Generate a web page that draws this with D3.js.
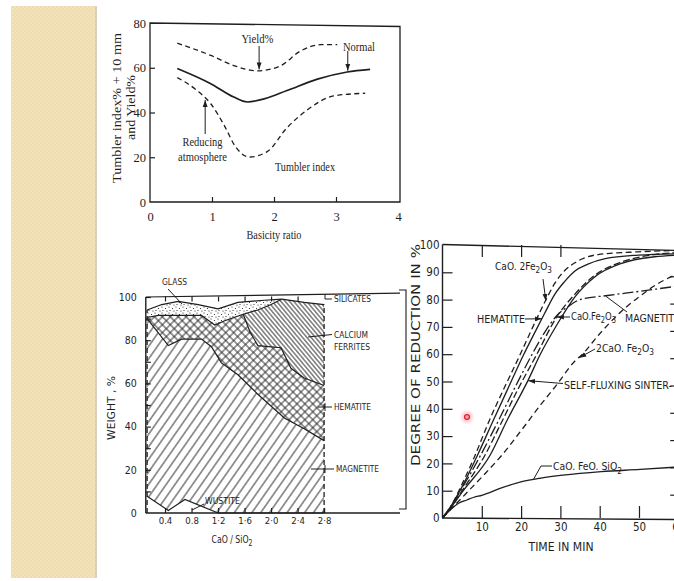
<!DOCTYPE html>
<html>
<head>
<meta charset="utf-8">
<script src="https://cdn.jsdelivr.net/npm/d3@7"></script>
<style>
html, body { margin: 0; padding: 0; background: #fff; }
svg { display: block; }
</style>
</head>
<body>
<svg id="slide" width="674" height="581"></svg>
<script>
// ---- top chart: tumbler index / yield vs basicity ratio
const yieldPts   = [[0.44,71],[0.98,65.5],[1.35,61],[1.73,58.6],[2.1,60.8],[2.43,67.5],[2.75,70.3],[3.02,70.3]];
const normalPts  = [[0.44,59.7],[0.98,52.9],[1.35,46.9],[1.57,44.7],[1.84,46.1],[2.21,49.8],[2.7,54.9],[3.18,58.1],[3.55,59.3]];
const tumblerPts = [[0.44,55.6],[0.76,49.8],[0.98,43.9],[1.19,34.6],[1.38,24.7],[1.6,20.1],[1.89,22.5],[2.21,33.2],[2.53,41],[2.96,47.4],[3.47,48.6]];
const basicityTicks = [0,1,2,3,4];
const tumblerTicks = [0,20,40,60,80];

// ---- bottom left: phases (cumulative weight %) vs CaO/SiO2
const wustiteTop   = [[0.13,7.7],[0.45,1.2],[0.7,6.3],[1.2,0],[2.8,0]];
const magnetiteTop = [[0.13,90],[0.45,77.5],[0.65,80.5],[0.95,80.5],[1.1,77],[1.25,69.5],[1.5,64],[1.8,55],[2.2,44],[2.5,39],[2.8,33.5]];
const hematiteTop  = [[0.13,90.5],[0.3,91.5],[0.95,91.5],[1.15,87],[1.3,89],[1.58,92],[1.68,84],[1.8,77.5],[2.15,76.5],[2.3,67],[2.5,62.5],[2.8,59]];
const glassTop     = [[0.13,94],[0.35,96.5],[0.6,98],[0.9,96.5],[1.2,94.5],[1.5,97.5],[1.9,98.5],[2.16,99]];
const ferriteLeft  = [[1.58,92],[1.8,94],[2.0,96.5],[2.16,99]];
const ferriteTop   = [[2.16,99],[2.5,97.5],[2.8,96.5]];
const ratioTicks = [0.4,0.8,1.2,1.6,2.0,2.4,2.8];
const ratioLabels = ["0.4","0.8","1·2","1·6","2·0","2·4","2·8"];
const weightTicks = [0,10,20,30,40,50,60,70,80,90,100];

// ---- bottom right: degree of reduction vs time
const cao2fe2o3   = [[0,0],[2,4],[5,12.5],[8,22],[12,36],[16,48.5],[19.7,59.7],[23,70],[26,79],[28.6,86],[31,90.5],[33.7,93.5],[39.6,96.5],[49.8,97.5],[60,98]];
const hematite    = [[0,0],[2,4],[5,11.5],[8.9,23],[13,36],[17,48.5],[20.6,59.7],[23.5,68],[26,75],[28.6,82],[31,86.5],[33.7,90.5],[37,93],[41.4,95],[49.8,96.3],[60,96.8]];
const magnetite   = [[0,0],[2,4],[5,11],[9.7,23],[14,35],[18.5,48],[22.7,59.7],[26,68],[29,74],[32,77.5],[35,80],[42,81.5],[50,83],[60,85]];
const caofe2o3    = [[0,0],[2,3.5],[5,10],[10.8,23],[15,35],[19.5,48],[23.9,59.7],[29,73.5],[33.7,82],[38.8,89],[45,93.5],[54,96.5],[60,97.2]];
const selfFluxing = [[0,0],[2,3.5],[5,9.5],[12.1,23],[16.5,36],[21.8,50.5],[24.8,59.7],[29,70.5],[33.7,81],[38.8,88.4],[45.6,93.3],[54,95.7],[60,96.3]];
const ca2fe2o5    = [[0,0],[3,4.5],[7,10.5],[11,16.5],[15.1,23],[20,32],[25,41.5],[29,48.7],[33.7,57.5],[35.4,59.7],[40,67.5],[45,75],[50,81],[55,86],[60,89.5]];
const caofeosio2  = [[0,0],[2,3],[4,5.3],[6.2,6.6],[8,7.6],[10,8.3],[15,11],[20.2,13.3],[25,14.6],[30.6,15.7],[40.4,17],[50.3,17.8],[60,18.7]];
const timeTicks = [10,20,30,40,50,60];
const reductionTicks = [0,10,20,30,40,50,60,70,80,90,100];

const SERIF = "'Liberation Serif','DejaVu Serif',serif";
const COND = "'DejaVu Sans Condensed','Liberation Sans Narrow','DejaVu Sans',sans-serif";
const INK = "#1e1e1e";

const svg = d3.select("#slide");
const defs = svg.append("defs");

// slide strip on the left
const chk = defs.append("pattern").attr("id", "chk")
    .attr("patternUnits", "userSpaceOnUse").attr("width", 4).attr("height", 4);
chk.append("rect").attr("width", 4).attr("height", 4).attr("fill", "#eedbae");
chk.append("rect").attr("width", 2).attr("height", 2).attr("fill", "#f3e3bd");
chk.append("rect").attr("x", 2).attr("y", 2).attr("width", 2).attr("height", 2).attr("fill", "#f3e3bd");
svg.append("rect").attr("x", 11).attr("y", 6).attr("width", 84).attr("height", 572).attr("fill", "url(#chk)");
svg.append("rect").attr("x", 95).attr("y", 6).attr("width", 2).attr("height", 572).attr("fill", "#d8d0bd");

// hatch patterns
function hatch(id, size, angle, cross) {
    const p = defs.append("pattern").attr("id", id)
        .attr("patternUnits", "userSpaceOnUse")
        .attr("width", size).attr("height", size)
        .attr("patternTransform", `rotate(${angle})`);
    p.append("line").attr("x1", size / 2).attr("y1", 0).attr("x2", size / 2).attr("y2", size)
        .attr("stroke", INK).attr("stroke-width", 0.9);
    if (cross)
        p.append("line").attr("x1", 0).attr("y1", size / 2).attr("x2", size).attr("y2", size / 2)
            .attr("stroke", INK).attr("stroke-width", 0.9);
}
hatch("hMag", 7.2, 35, false);
hatch("hHem", 5.6, 45, true);
hatch("hCF", 3.3, -40, false);
const dots = defs.append("pattern").attr("id", "hGlass")
    .attr("patternUnits", "userSpaceOnUse").attr("width", 7).attr("height", 6);
[[1,1],[4.5,2.5],[2,4.5],[6,5]].forEach(d =>
    dots.append("circle").attr("cx", d[0]).attr("cy", d[1]).attr("r", 0.6).attr("fill", INK));

defs.append("marker").attr("id", "arr")
    .attr("viewBox", "0 -5 10 10").attr("refX", 10).attr("refY", 0)
    .attr("markerUnits", "userSpaceOnUse").attr("markerWidth", 7).attr("markerHeight", 7)
    .attr("orient", "auto")
    .append("path").attr("d", "M0,-3.5L10,0L0,3.5Z").attr("fill", INK);

const cursorGrad = defs.append("radialGradient").attr("id", "cursor");
cursorGrad.append("stop").attr("offset", "0%").attr("stop-color", "rgba(255,70,90,0.55)");
cursorGrad.append("stop").attr("offset", "100%").attr("stop-color", "rgba(255,120,140,0)");

function styleAxis(g, font, size) {
    g.attr("font-family", font).attr("font-size", size);
    g.selectAll("text").attr("fill", INK);
    g.selectAll("line").attr("stroke", INK).attr("stroke-width", 1.2);
    g.select(".domain").remove();
}

// text with chemical subscripts (digit right after a letter)
function chem(sel, str, fs) {
    const runs = [];
    let cur = "", sub = false;
    for (let i = 0; i < str.length; i++) {
        const c = str[i];
        const isSub = /\d/.test(c) && i > 0 && /[A-Za-z]/.test(str[i - 1]);
        if (isSub !== sub && cur) { runs.push([cur, sub]); cur = ""; }
        sub = isSub;
        cur += c;
    }
    if (cur) runs.push([cur, sub]);
    let shifted = false;
    runs.forEach(([s, isSub]) => {
        const t = sel.append("tspan").text(s);
        if (isSub) { t.attr("font-size", fs * 0.8).attr("dy", fs * 0.32); shifted = true; }
        else if (shifted) { t.attr("dy", -fs * 0.32); shifted = false; }
    });
}

function label(g, str, x, cy, fs, font, width, anchor) {
    const t = g.append("text").attr("x", x).attr("y", cy + fs * 0.36)
        .attr("font-family", font).attr("font-size", fs).attr("fill", INK)
        .attr("text-anchor", anchor || "start");
    chem(t, str, fs);
    if (width) t.attr("textLength", width).attr("lengthAdjust", "spacingAndGlyphs");
    return t;
}

function leader(g, pts, arrow) {
    g.append("path").attr("d", d3.line()(pts)).attr("fill", "none")
        .attr("stroke", INK).attr("stroke-width", 1)
        .attr("marker-end", arrow ? "url(#arr)" : null);
}

// ================= top chart =================
const tx = d3.scaleLinear().domain([0, 4]).range([150, 398]);
const ty = d3.scaleLinear().domain([0, 80]).range([202, 23]);
const tg = svg.append("g");

tg.append("path")
    .attr("d", `M${tx(0)},${ty(80)}L${tx(4) + 2},${ty(80) + 3.5}L${tx(4) + 2},${ty(0)}L${tx(0)},${ty(0)}Z`)
    .attr("fill", "none").attr("stroke", INK).attr("stroke-width", 1.3);

tg.append("g").attr("transform", `translate(0,${ty(0)})`)
    .call(d3.axisBottom(tx).tickValues(basicityTicks).tickFormat(d3.format("d"))
        .tickSizeInner(-5).tickSizeOuter(0).tickPadding(10))
    .call(styleAxis, SERIF, 12.5)
    .call(g => g.selectAll(".tick").filter(d => d === 0 || d === 4).select("line").remove());

tg.append("g").attr("transform", `translate(${tx(0)},0)`)
    .call(d3.axisLeft(ty).tickValues(tumblerTicks).tickFormat(d3.format("d"))
        .tickSizeInner(-5).tickSizeOuter(0).tickPadding(4))
    .call(styleAxis, SERIF, 12.5)
    .call(g => g.selectAll(".tick").filter(d => d === 0 || d === 80).select("line").remove());

const topLine = d3.line().x(d => tx(d[0])).y(d => ty(d[1])).curve(d3.curveMonotoneX);
tg.append("path").attr("d", topLine(yieldPts)).attr("fill", "none")
    .attr("stroke", INK).attr("stroke-width", 1.3).attr("stroke-dasharray", "5,3.5");
tg.append("path").attr("d", topLine(normalPts)).attr("fill", "none")
    .attr("stroke", INK).attr("stroke-width", 1.7);
tg.append("path").attr("d", topLine(tumblerPts)).attr("fill", "none")
    .attr("stroke", INK).attr("stroke-width", 1.3).attr("stroke-dasharray", "5,3.5");

label(tg, "Yield%", 257.5, 38.5, 12.5, SERIF, 32, "middle");
leader(tg, [[tx(1.76), 46], [tx(1.76), ty(58.8) - 1]], true);
label(tg, "Normal", 359, 46.5, 12.5, SERIF, 32, "middle");
leader(tg, [[tx(3.19), 51], [tx(3.19), ty(58.2) - 1]], true);
label(tg, "Reducing", 202.5, 141.5, 12.5, SERIF, 40, "middle");
label(tg, "atmosphere", 202.5, 156.5, 12.5, SERIF, 49, "middle");
leader(tg, [[tx(0.89), 134], [tx(0.89), ty(46) + 1]], true);
label(tg, "Tumbler index", 305, 166.5, 12.5, SERIF, 60, "middle");
label(tg, "Basicity ratio", 274, 234, 13, SERIF, 55, "middle");

tg.append("text").attr("transform", `translate(${117 + 4.2},108) rotate(-90)`)
    .attr("text-anchor", "middle").attr("font-family", SERIF).attr("font-size", 12).attr("fill", INK)
    .attr("textLength", 150).attr("lengthAdjust", "spacingAndGlyphs")
    .text("Tumbler index% + 10 mm");
tg.append("text").attr("transform", `translate(${131 + 4.2},107.5) rotate(-90)`)
    .attr("text-anchor", "middle").attr("font-family", SERIF).attr("font-size", 12).attr("fill", INK)
    .attr("textLength", 65).attr("lengthAdjust", "spacingAndGlyphs")
    .text("and Yield%");

// ================= bottom-left chart =================
const bx = d3.scaleLinear().domain([0, 2.8]).range([138.5, 324.1]);
const by = d3.scaleLinear().domain([0, 100]).range([513, 297]);
const bg = svg.append("g");
const bLine = d3.line().x(d => bx(d[0])).y(d => by(d[1]));

const fromX = (arr, x0) => arr.filter(d => d[0] >= x0);
const upToX = (arr, x1) => arr.filter(d => d[0] <= x1);

const layers = [
    { fill: "url(#hMag)", pts: magnetiteTop.concat(wustiteTop.slice().reverse()) },
    { fill: "url(#hHem)", pts: hematiteTop.concat(magnetiteTop.slice().reverse()) },
    { fill: "url(#hCF)", pts: ferriteLeft.concat(ferriteTop.slice(1), fromX(hematiteTop, 1.58).reverse()) },
    { fill: "url(#hGlass)", pts: glassTop.concat(ferriteLeft.slice(0, -1).reverse(), upToX(hematiteTop, 1.58).reverse().slice(1)) }
];
bg.selectAll("path.layer").data(layers).join("path").attr("class", "layer")
    .attr("d", d => bLine(d.pts) + "Z").attr("fill", d => d.fill).attr("stroke", "none");

[wustiteTop, magnetiteTop, hematiteTop, glassTop, ferriteLeft, ferriteTop].forEach(b =>
    bg.append("path").attr("d", bLine(b)).attr("fill", "none")
        .attr("stroke", INK).attr("stroke-width", 1.2));
// dashed side edges
bg.append("path").attr("d", bLine([[0.13, 0], [0.13, 94]])).attr("stroke", INK)
    .attr("stroke-width", 1.3).attr("stroke-dasharray", "5,3");
bg.append("path").attr("d", bLine([[2.8, 0], [2.8, 96.5]])).attr("stroke", INK)
    .attr("stroke-width", 1.3).attr("stroke-dasharray", "5,3");

// frame lines
const bx0 = bx(0.11);
bg.append("path").attr("d", `M${bx0},${by(0)}L400,${by(0)}`).attr("stroke", INK).attr("stroke-width", 1.4);
bg.append("path").attr("d", `M${bx0},${by(0)}L${bx0},${by(100)}`).attr("stroke", INK).attr("stroke-width", 1.4);
bg.append("path").attr("d", `M${bx0},${by(100)}L400,${by(101.8)}`).attr("stroke", INK).attr("stroke-width", 1.2);

bg.append("g").attr("transform", `translate(0,${by(0)})`)
    .call(d3.axisBottom(bx).tickValues(ratioTicks).tickFormat((d, i) => ratioLabels[i])
        .tickSizeInner(-5).tickSizeOuter(0).tickPadding(4))
    .call(styleAxis, COND, 9.5);
bg.append("g").attr("transform", `translate(0,${by(100) - 0.5})`)
    .call(d3.axisTop(bx).tickValues(ratioTicks.slice(0, -1)).tickFormat("")
        .tickSizeInner(-5).tickSizeOuter(0))
    .call(styleAxis, COND, 9.5);
bg.append("g").attr("transform", `translate(${bx0},0)`)
    .call(d3.axisLeft(by).tickValues(weightTicks).tickFormat(d => d % 20 === 0 ? d : "")
        .tickSizeInner(-5).tickSizeOuter(0).tickPadding(9))
    .call(styleAxis, COND, 10.5)
    .call(g => g.selectAll(".tick").filter(d => d === 0).select("line").remove());

label(bg, "GLASS", 162, 282, 9, COND, 25);
leader(bg, [[168, 289], [182, 304]], false);
label(bg, "SILICATES", 334, 299, 9.5, COND, 37);
leader(bg, [[325, 294], [325, 299], [332, 299]], false);
label(bg, "CALCIUM", 334, 335, 9.5, COND, 34);
label(bg, "FERRITES", 334, 347, 9.5, COND, 36);
leader(bg, [[308, 337], [332, 334.5]], false);
label(bg, "HEMATITE", 334, 407, 9.5, COND, 37);
leader(bg, [[318, 407], [332, 407]], false);
leader(bg, [[325, 403], [325, 411]], false);
label(bg, "MAGNETITE", 336, 468.5, 9.5, COND, 43);
leader(bg, [[311, 469], [334, 469]], false);
leader(bg, [[325, 465], [325, 473]], false);
label(bg, "WUSTITE", 205, 501, 9.5, COND, 35);
leader(bg, [[204, 504], [192, 510]], false);

label(bg, "CaO / SiO2", 232, 539, 10, COND, 41, "middle");
bg.append("text").attr("transform", `translate(${111 + 3.6},408) rotate(-90)`)
    .attr("text-anchor", "middle").attr("font-family", COND).attr("font-size", 10).attr("fill", INK)
    .attr("textLength", 64).attr("lengthAdjust", "spacingAndGlyphs")
    .text("WEIGHT , %");

// ================= bottom-right chart =================
const rx = d3.scaleLinear().domain([0, 60]).range([442.5, 678.3]);
const ry = d3.scaleLinear().domain([0, 100]).range([518, 245]);
const rg = svg.append("g");

rg.append("path").attr("d", `M${rx(0)},${ry(0)}L674,${ry(0) + 1.5}`).attr("stroke", INK).attr("stroke-width", 1.4);
rg.append("path").attr("d", `M${rx(0)},${ry(0)}L${rx(0)},${ry(100) - 0.5}`).attr("stroke", INK).attr("stroke-width", 1.4);
rg.append("path").attr("d", `M${rx(0)},${ry(100) - 0.5}L674,${ry(98)}`).attr("stroke", INK).attr("stroke-width", 1.3);

rg.append("g").attr("transform", `translate(0,${ry(0)})`)
    .call(d3.axisBottom(rx).tickValues(timeTicks).tickSizeInner(-12).tickSizeOuter(0).tickPadding(5))
    .call(styleAxis, COND, 11.5);
rg.append("g").attr("transform", `translate(0,${ry(100)})`)
    .call(d3.axisTop(rx).tickValues([10, 20, 30]).tickFormat("").tickSizeInner(-12).tickSizeOuter(0))
    .call(styleAxis, COND, 11.5);
rg.append("g").attr("transform", `translate(${rx(0)},0)`)
    .call(d3.axisLeft(ry).tickValues(reductionTicks).tickSizeInner(-10).tickSizeOuter(0).tickPadding(3))
    .call(styleAxis, COND, 11.5)
    .call(g => g.selectAll(".tick").filter(d => d === 0 || d === 100).select("line").remove());
rg.append("g").attr("transform", `translate(${rx(61)},4)`)
    .call(d3.axisRight(ry).tickValues([10, 20, 30, 40, 50, 60, 70, 80, 90]).tickFormat("").tickSizeInner(-12).tickSizeOuter(0))
    .call(styleAxis, COND, 11.5);

const rLine = d3.line().x(d => rx(d[0])).y(d => ry(d[1])).curve(d3.curveMonotoneX);
const reductionSeries = [
    { pts: cao2fe2o3, dash: "6,3.5" },
    { pts: hematite, dash: null },
    { pts: magnetite, dash: "11,3,2,3" },
    { pts: caofe2o3, dash: "7,3" },
    { pts: selfFluxing, dash: null },
    { pts: ca2fe2o5, dash: "6,4" },
    { pts: caofeosio2, dash: null }
];
rg.selectAll("path.curve").data(reductionSeries).join("path").attr("class", "curve")
    .attr("d", d => rLine(d.pts)).attr("fill", "none")
    .attr("stroke", INK).attr("stroke-width", 1.3)
    .attr("stroke-dasharray", d => d.dash);

label(rg, "CaO. 2Fe2O3", 495, 266, 11, COND, 57);
leader(rg, [[543, 279], [rx(26.3), ry(79.5)]], true);
label(rg, "HEMATITE", 477, 319, 11, COND, 48);
leader(rg, [[525, 319], [rx(25.3), ry(73)]], true);
label(rg, "CaO.Fe2O3", 571, 316, 11, COND, 45);
leader(rg, [[570, 317], [rx(29.1), ry(73.6)]], true);
label(rg, "MAGNETITE", 625, 318, 11, COND, 55);
leader(rg, [[627, 312], [rx(41.6), ry(81.2)]], false);
label(rg, "2CaO. Fe2O3", 596, 348, 11, COND, 58);
leader(rg, [[595, 349], [rx(34.8), ry(58.7)]], true);
label(rg, "SELF-FLUXING SINTER-", 564, 385, 11, COND, 108);
leader(rg, [[563, 383.5], [rx(21.8), ry(50.3)]], true);
label(rg, "CaO. FeO. SiO2", 553, 466.5, 11, COND, 69);
leader(rg, [[552, 466], [541, 466], [rx(23.1), ry(14)]], false);

label(rg, "TIME IN MIN", 561, 546.5, 12, COND, 65, "middle");
rg.append("text").attr("transform", `translate(${416 + 4.3},355) rotate(-90)`)
    .attr("text-anchor", "middle").attr("font-family", COND).attr("font-size", 12).attr("fill", INK)
    .attr("textLength", 222).attr("lengthAdjust", "spacingAndGlyphs")
    .text("DEGREE OF REDUCTION IN %");

// bracket left of the right chart
rg.append("path").attr("d", "M399,290H406V509H399").attr("fill", "none").attr("stroke", INK).attr("stroke-width", 1.1);

// presenter cursor highlight
svg.append("circle").attr("cx", 467).attr("cy", 417).attr("r", 8).attr("fill", "url(#cursor)");
svg.append("circle").attr("cx", 467).attr("cy", 417).attr("r", 2.4).attr("fill", "none")
    .attr("stroke", "#e0202a").attr("stroke-width", 1.3);
</script>
</body>
</html>
